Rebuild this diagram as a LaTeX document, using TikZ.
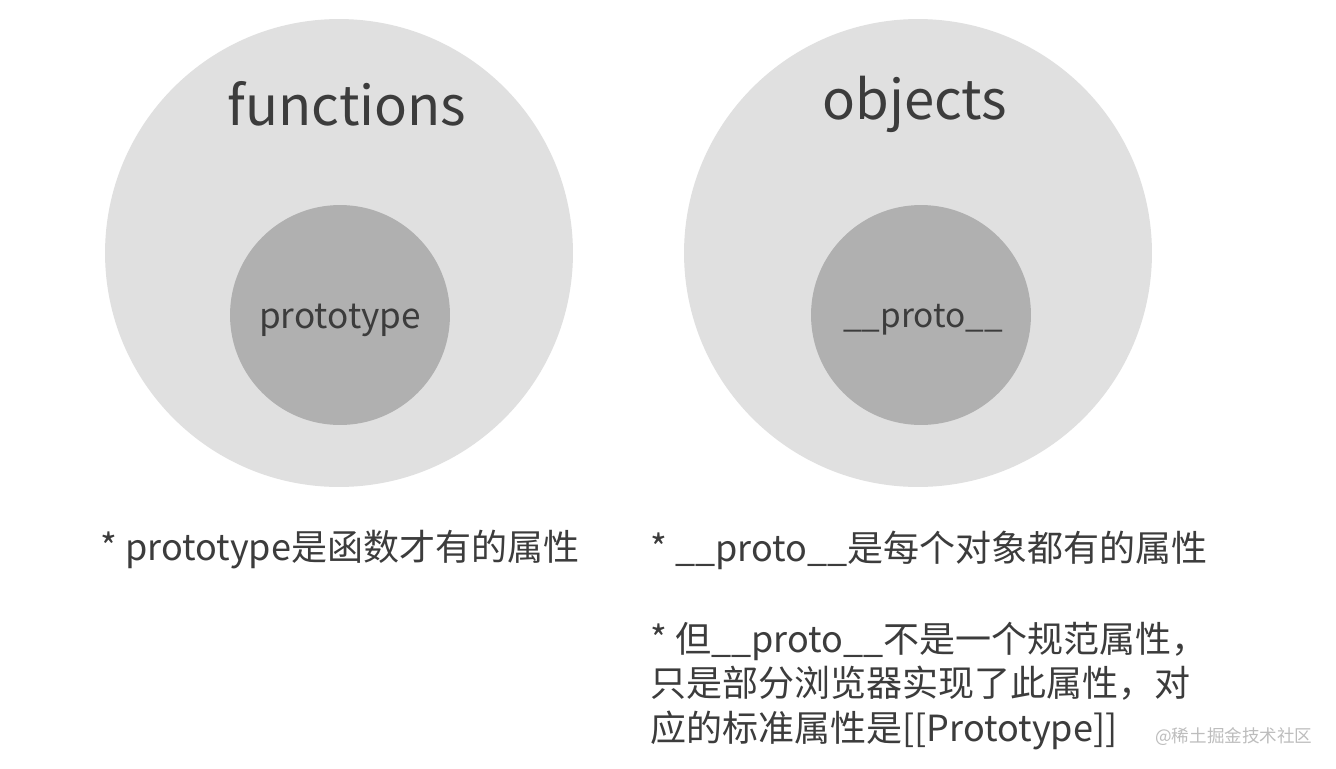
\documentclass[tikz,border=0pt]{standalone}
\usepackage{fontspec}
\setmainfont{Noto Sans CJK SC}
\usetikzlibrary{positioning}
\definecolor{OuterGrey}{HTML}{E0E0E0}
\definecolor{InnerGrey}{HTML}{B0B0B0}
\definecolor{TextGrey}{HTML}{3C3C3C}
\definecolor{MarkGrey}{HTML}{BDBDBD}
\begin{document}
\begin{tikzpicture}[x=0.02cm,y=-0.02cm,
  outerdisc/.style={circle,fill=OuterGrey,minimum size=9.36cm,inner sep=0pt},
  innerdisc/.style={circle,fill=InnerGrey,minimum size=4.4cm,inner sep=0pt},
  hdr/.style={font=\fontsize{31}{36}\selectfont,text=TextGrey},
  proptxt/.style={font=\fontsize{20}{24}\selectfont,text=TextGrey},
  note/.style={font=\fontsize{20.5}{25.5}\selectfont,text=TextGrey,anchor=west,align=left,inner sep=0pt},
  wmark/.style={font=\fontsize{10}{12}\selectfont,text=MarkGrey,anchor=west,inner sep=0pt}
]
  \useasboundingbox[fill=white] (0,0) rectangle (1336,768);

  % left: functions
  \node[outerdisc] (fun) at (339,253) {};
  \node[innerdisc] (funin) at (340,315) {};
  \node[hdr] (funlbl) at (347,104) {functions};
  \node[proptxt] (protolbl) at (340,320) {prototype};

  % right: objects
  \node[outerdisc] (obj) at (918,253) {};
  \node[innerdisc] (objin) at (921,315) {};
  \node[hdr] (objlbl) at (915,104) {objects};
  \node[proptxt,font=\fontsize{19}{24}\selectfont] (dunderlbl) at (923,320) {\_\_proto\_\_};

  % notes below
  \node[note] (noteL) at (100,550) {* prototype是函数才有的属性};
  \node[note] (noteR) at (650,550) {* \_\_proto\_\_是每个对象都有的属性};
  \node[note] (noteS) at (650,686) {* 但\_\_proto\_\_不是一个规范属性，\\只是部分浏览器实现了此属性，对\\应的标准属性是[[Prototype]]};
  \node[wmark] (wm) at (1155,737) {@稀土掘金技术社区};
\end{tikzpicture}
\end{document}
